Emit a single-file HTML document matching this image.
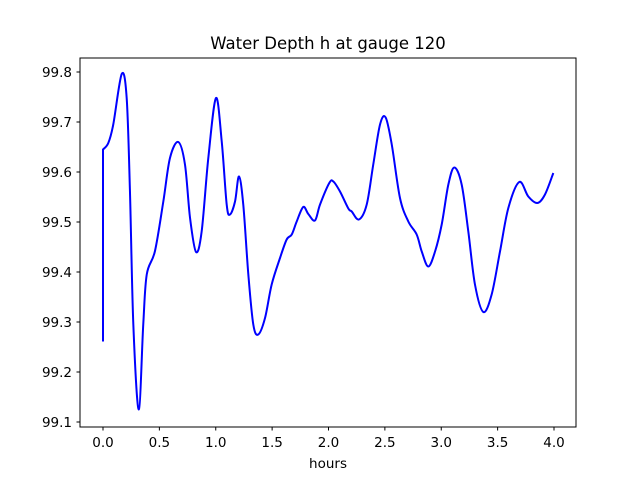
<!DOCTYPE html>
<html><head><meta charset="utf-8"><style>
body{margin:0;background:#fff}
svg text{font-family:"DejaVu Sans","Liberation Sans",sans-serif;fill:#000}
</style></head><body>
<svg id="chart" width="640" height="480" xmlns="http://www.w3.org/2000/svg">
<rect width="640" height="480" fill="#fff"/>
<text x="328" y="49" font-size="16.5" text-anchor="middle">Water Depth h at gauge 120</text>
<g id="xt"></g><g id="yt"></g>
<path id="line" fill="none" stroke="#0000ff" stroke-width="2" stroke-linejoin="round"/>
<rect x="80" y="58" width="496" height="369" fill="none" stroke="#000" stroke-width="1"/>
<text x="328" y="468" font-size="13.5" text-anchor="middle">hours</text>
</svg>
<script>
const hours=[0,0,0.047,0.091,0.166,0.210,0.239,0.269,0.317,0.357,0.388,0.461,0.535,0.594,0.668,0.727,0.772,0.825,0.875,0.934,1.002,1.053,1.097,1.126,1.171,1.206,1.244,1.289,1.333,1.377,1.437,1.496,1.570,1.629,1.674,1.718,1.776,1.821,1.880,1.925,2.007,2.043,2.102,2.176,2.206,2.270,2.339,2.397,2.457,2.507,2.561,2.634,2.708,2.782,2.827,2.885,2.945,3.004,3.063,3.116,3.181,3.240,3.299,3.373,3.447,3.521,3.595,3.692,3.772,3.852,3.920,3.994];
const depth=[99.261,99.645,99.658,99.695,99.796,99.748,99.562,99.295,99.125,99.295,99.395,99.442,99.541,99.628,99.660,99.615,99.508,99.440,99.481,99.628,99.748,99.661,99.535,99.515,99.541,99.591,99.535,99.395,99.295,99.275,99.308,99.375,99.428,99.465,99.475,99.501,99.530,99.516,99.503,99.535,99.578,99.581,99.561,99.527,99.521,99.505,99.535,99.615,99.695,99.709,99.655,99.548,99.501,99.475,99.441,99.411,99.441,99.495,99.575,99.609,99.575,99.481,99.375,99.320,99.355,99.441,99.528,99.580,99.551,99.538,99.555,99.598];
const xTicks=[0,0.5,1,1.5,2,2.5,3,3.5,4];
const xTickLabels=["0.0","0.5","1.0","1.5","2.0","2.5","3.0","3.5","4.0"];
const yTicks=[99.1,99.2,99.3,99.4,99.5,99.6,99.7,99.8];
const yTickLabels=["99.1","99.2","99.3","99.4","99.5","99.6","99.7","99.8"];
const X=h=>103+h*112.75;
const Y=v=>72+(99.8-v)*500;
const NS="http://www.w3.org/2000/svg";
const xt=document.getElementById('xt'),yt=document.getElementById('yt');
xTicks.forEach((t,i)=>{
 const l=document.createElementNS(NS,'line');
 
 
 l.setAttribute('x1',X(t));l.setAttribute('x2',X(t));l.setAttribute('y1',427);l.setAttribute('y2',430.5);l.setAttribute('stroke','#000');
 xt.appendChild(l);
 const tx=document.createElementNS(NS,'text');
 
 
 tx.setAttribute('x',X(t));tx.setAttribute('y',447);tx.setAttribute('font-size','13.5');tx.setAttribute('text-anchor','middle');
 tx.textContent=xTickLabels[i];xt.appendChild(tx);
});
yTicks.forEach((t,i)=>{
 const l=document.createElementNS(NS,'line');
 
 
 l.setAttribute('x1',76.5);l.setAttribute('x2',80);l.setAttribute('y1',Y(t));l.setAttribute('y2',Y(t));l.setAttribute('stroke','#000');
 yt.appendChild(l);
 const tx=document.createElementNS(NS,'text');
 
 
 tx.setAttribute('x',72);tx.setAttribute('y',Y(t)+5);tx.setAttribute('font-size','13.5');tx.setAttribute('text-anchor','end');
 tx.textContent=yTickLabels[i];yt.appendChild(tx);
});
const p=hours.map((h,i)=>[X(h),Y(depth[i])]);
let d=`M${p[0][0]},${p[0][1]}L${p[1][0]},${p[1][1]}`;
for(let i=1;i<p.length-1;i++){
 const p0=p[Math.max(1,i-1)],p1=p[i],p2=p[i+1],p3=p[Math.min(p.length-1,i+2)];
 const c1=[p1[0]+(p2[0]-p0[0])/6,p1[1]+(p2[1]-p0[1])/6];
 const c2=[p2[0]-(p3[0]-p1[0])/6,p2[1]-(p3[1]-p1[1])/6];
 d+=`C${c1[0]},${c1[1]} ${c2[0]},${c2[1]} ${p2[0]},${p2[1]}`;
}
document.getElementById('line').setAttribute('d',d);
</script>
</body></html>
